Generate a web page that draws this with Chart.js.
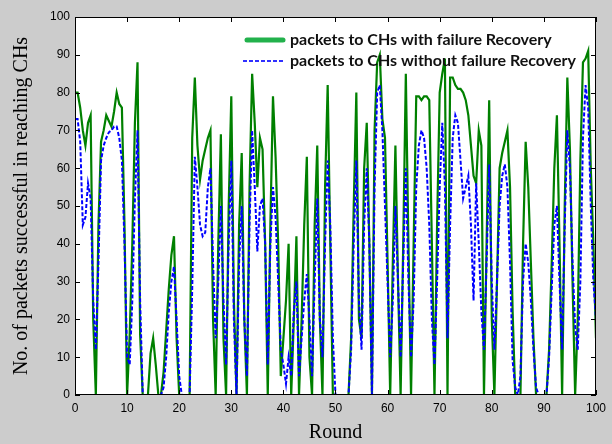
<!DOCTYPE html>
<html><head><meta charset="utf-8">
<script src="https://cdn.jsdelivr.net/npm/chart.js@4/dist/chart.umd.min.js"></script>
<style>html,body{margin:0;padding:0;background:#cccccc;}canvas{display:block;}</style>
</head><body>
<canvas id="c" width="612" height="444"></canvas>
<script>
const rounds = [0,0.5,1,1.5,2,2.5,3,3.5,4,4.5,5,5.5,6,6.5,7,7.5,8,8.5,9,9.5,
10,10.5,11,11.5,12,12.5,13,13.5,14,14.5,15,15.5,16,16.5,17,17.5,18,18.5,19,19.5,
20,20.5,21,21.5,22,22.5,23,23.5,24,24.5,25,25.5,26,26.5,27,27.5,28,28.5,29,29.5,
30,30.5,31,31.5,32,32.5,33,33.5,34,34.5,35,35.5,36,36.5,37,37.5,38,38.5,39,39.5,
40,40.5,41,41.5,42,42.5,43,43.5,44,44.5,45,45.5,46,46.5,47,47.5,48,48.5,49,49.5,
50,50.5,51,51.5,52,52.5,53,53.5,54,54.5,55,55.5,56,56.5,57,57.5,58,58.5,59,59.5,
60,60.5,61,61.5,62,62.5,63,63.5,64,64.5,65,65.5,66,66.5,67,67.5,68,68.5,69,69.5,
70,70.5,71,71.5,72,72.5,73,73.5,74,74.5,75,75.5,76,76.5,77,77.5,78,78.5,79,79.5,
80,80.5,81,81.5,82,82.5,83,83.5,84,84.5,85,85.5,86,86.5,87,87.5,88,88.5,89,89.5,
90,90.5,91,91.5,92,92.5,93,93.5,94,94.5,95,95.5,96,96.5,97,97.5,98,98.5,99,99.5,100];

const withRecovery = [
80,80,76,70,66,72,74,20,0,45,
67,70,74,72.5,71,75,80,77,76,45,
0,16,40,72,88,16,0,0,0,11,
15,8,0,0,6,17,28,37,42,15,
0,0,0,0,0,68,84,66,57,62,
65,68,70,20,0,40,69,15,0,50,
79,25,0,45,64,20,0,55,85,72,
55,68,65,40,0,45,79,63,40,5,
15,25,40,0,20,42,0,20,45,63,
10,0,45,66,20,0,55,82,40,0,
0,0,0,0,0,0,15,50,80,20,
15,60,72,40,0,70,88,90,73,68,
35,0,35,66,30,0,40,85,40,0,
40,79,79,78,79,79,78,40,0,45,
80,85,89,0,84,84,82,81,81,80,
78,74,66,58,56,70,66,0,40,78,
20,0,30,60,64,67,70,55,22,0,
0,0,40,67,55,35,15,0,0,0,
0,0,12,35,60,74,40,0,50,84,
65,30,0,20,62,88,89,91,60,40,
15];

const withoutRecovery = [
73,73,67,45,47,56,52,25,12,35,
62,66,68,69.5,70,71,71,68,62,40,
10,8,25,52,70,25,0,0,0,0,
0,0,0,0,2,10,22,30,34,20,
5,0,0,0,0,28,63,55,45,42,
43,55,60,35,15,30,50,25,8,40,
62,20,0,35,50,20,5,45,70,55,
38,50,52,40,8,40,55,47,30,12,
8,3,10,5,22,30,5,15,25,32,
20,5,30,52,20,10,40,62,45,15,
0,0,0,0,0,0,12,40,62,25,
12,45,60,40,0,55,80,82,70,50,
30,10,25,50,30,10,35,60,30,10,
25,55,66,70,68,60,45,20,8,30,
55,72,55,15,45,68,74,72,62,52,
55,58,45,25,56,40,22,12,35,61,
30,12,30,50,58,61,55,35,9,2,
0,5,30,40,35,25,12,2,0,0,
0,0,10,28,45,50,30,12,45,70,
60,35,18,12,30,68,82,76,50,30,
20];

const xTicks = [0,10,20,30,40,50,60,70,80,90,100];
const yTicks = [0,10,20,30,40,50,60,70,80,90,100];
const seriesNames = ['packets to CHs with failure Recovery','packets to CHs without failure Recovery'];
const xTitle = 'Round';
const yTitle = 'No. of packets successful in reaching CHs';

const plotBg = {
  id:'plotBg',
  beforeDraw(chart){
    const {ctx, chartArea:a} = chart;
    ctx.save(); ctx.fillStyle='#ffffff';
    ctx.fillRect(a.left,a.top,a.right-a.left,a.bottom-a.top);
    ctx.restore();
  }
};

const frameLegend = {
  id:'frameLegend',
  afterDatasetsDraw(chart){
    const {ctx, chartArea:a, scales:{x,y}} = chart;
    ctx.save();
    ctx.strokeStyle='#000'; ctx.lineWidth=1; ctx.setLineDash([]);
    ctx.strokeRect(Math.round(a.left)+0.5, Math.round(a.top)+0.5, Math.round(a.right-a.left)-1, Math.round(a.bottom-a.top)-1);
    ctx.beginPath();
    for (const v of xTicks){
      const px = Math.round(x.getPixelForValue(v))+0.5;
      ctx.moveTo(px,a.bottom); ctx.lineTo(px,a.bottom-5);
      ctx.moveTo(px,a.top); ctx.lineTo(px,a.top+5);
    }
    for (const v of yTicks){
      const py = Math.round(y.getPixelForValue(v))+0.5;
      ctx.moveTo(a.left,py); ctx.lineTo(a.left+5,py);
      ctx.moveTo(a.right,py); ctx.lineTo(a.right-5,py);
    }
    ctx.stroke();

    // legend
    const lx = a.left + 170, ly1 = a.top + 23, ly2 = a.top + 44;
    ctx.lineCap='round';
    ctx.strokeStyle='#22b14c'; ctx.lineWidth=5;
    ctx.beginPath(); ctx.moveTo(lx+2,ly1); ctx.lineTo(lx+38,ly1); ctx.stroke();
    ctx.lineCap='butt';
    ctx.strokeStyle='#3030ff'; ctx.lineWidth=2; ctx.setLineDash([4,2]);
    ctx.beginPath(); ctx.moveTo(lx-2,ly2); ctx.lineTo(lx+40,ly2); ctx.stroke();
    ctx.setLineDash([]);
    ctx.font='bold 14px Lato';
    const w = ctx.measureText(seriesNames[0]).width;
    const size = Math.min(17, 14 * 262 / w);
    ctx.fillStyle='#111'; ctx.font='bold ' + size.toFixed(1) + 'px Lato'; ctx.textBaseline='middle'; ctx.textAlign='left';
    ctx.fillText(seriesNames[0], lx+45, ly1);
    ctx.fillText(seriesNames[1], lx+45, ly2);
    ctx.restore();
  }
};

new Chart(document.getElementById('c'), {
  type:'line',
  data:{
    labels: rounds,
    datasets:[
      {label:seriesNames[1], data:withoutRecovery, borderColor:'#0000ff', borderWidth:2, borderDash:[4,2], pointRadius:0, tension:0, fill:false, order:0},
      {label:seriesNames[0], data:withRecovery, borderColor:'#008000', borderWidth:2.2, pointRadius:0, tension:0, fill:false, order:1}
    ]
  },
  options:{
    responsive:false, animation:false, devicePixelRatio:1,
    layout:{padding:{left:0,right:14,top:17,bottom:0}},
    plugins:{legend:{display:false}, tooltip:{enabled:false}},
    scales:{
      x:{type:'linear', min:0, max:100,
        afterFit(s){ s.height = 49; },
        afterBuildTicks(s){ s.ticks = xTicks.map(v=>({value:v})); },
        grid:{display:false, drawTicks:false},
        border:{display:false},
        ticks:{color:'#000', font:{family:'Liberation Sans', size:12}, padding:6, maxRotation:0},
        title:{display:true, text:xTitle, color:'#000', font:{family:'Liberation Serif', size:20}, padding:{top:0,bottom:-1}}
      },
      y:{type:'linear', min:0, max:100,
        afterFit(s){ s.width = 75; },
        afterBuildTicks(s){ s.ticks = yTicks.map(v=>({value:v})); },
        grid:{display:false, drawTicks:false},
        border:{display:false},
        ticks:{color:'#000', font:{family:'Liberation Sans', size:12}, padding:5},
        title:{display:true, text:yTitle, color:'#000', font:{family:'Liberation Serif', size:20}, padding:{top:10,bottom:0}}
      }
    }
  },
  plugins:[plotBg, frameLegend]
});
</script>
</body></html>
